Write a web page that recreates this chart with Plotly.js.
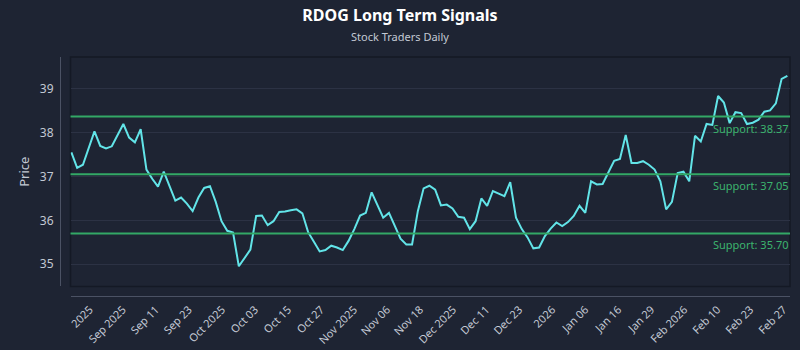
<!DOCTYPE html>
<html>
<head>
<meta charset="utf-8">
<script src="https://cdn.plot.ly/plotly-3.0.1.min.js"></script>
<style>html,body{margin:0;padding:0;background:#1e2433;}#chart{width:800px;height:350px;}</style>
</head>
<body>
<div id="chart"></div>
<script>
// ---- data ----
const prices = [
  37.55, 37.20, 37.27, 37.65, 38.03, 37.70, 37.64, 37.69, 37.94, 38.20,
  37.89, 37.78, 38.08, 37.16, 36.95, 36.77, 37.11, 36.78, 36.45, 36.52,
  36.38, 36.21, 36.52, 36.74, 36.78, 36.42, 35.98, 35.76, 35.72, 34.95,
  35.14, 35.33, 36.10, 36.11, 35.89, 35.98, 36.19, 36.20, 36.23, 36.25,
  36.16, 35.73, 35.51, 35.29, 35.32, 35.42, 35.38, 35.32, 35.53, 35.80,
  36.11, 36.17, 36.64, 36.36, 36.06, 36.17, 35.87, 35.58, 35.45, 35.45,
  36.21, 36.73, 36.79, 36.70, 36.34, 36.36, 36.27, 36.08, 36.06, 35.80,
  35.98, 36.50, 36.33, 36.67, 36.61, 36.55, 36.87, 36.06, 35.80, 35.61,
  35.36, 35.38, 35.64, 35.81, 35.95, 35.87, 35.96, 36.10, 36.33, 36.17,
  36.89, 36.82, 36.83, 37.08, 37.36, 37.40, 37.95, 37.31, 37.31, 37.35,
  37.27, 37.16, 36.89, 36.25, 36.42, 37.08, 37.11, 36.89, 37.93, 37.80,
  38.20, 38.18, 38.84, 38.69, 38.22, 38.47, 38.45, 38.20, 38.23, 38.30,
  38.48, 38.51, 38.67, 39.23, 39.30
];
const tickLabels = [
  "2025", "Sep 2025", "Sep 11", "Sep 23", "Oct 2025", "Oct 03", "Oct 15", "Oct 27",
  "Nov 2025", "Nov 06", "Nov 18", "Dec 2025", "Dec 11", "Dec 23", "2026", "Jan 06",
  "Jan 16", "Jan 29", "Feb 2026", "Feb 10", "Feb 23", "Feb 27"
];
const supportLevels = [38.37, 37.05, 35.70];
const supportNames = ["Support: 38.37", "Support: 37.05", "Support: 35.70"];

// ---- build ----
const xIdx = prices.map((_, i) => i);
const tickStart = 3.2, tickStep = 5.72;
const tickVals = tickLabels.map((_, k) => tickStart + k * tickStep);

const bg = '#1e2433';
const green = '#33a866';
const txt = '#c3c9d4';

const traces = [{
  type: 'scatter', mode: 'lines', x: xIdx, y: prices,
  line: {color: '#62e4e8', width: 2}, hoverinfo: 'skip', showlegend: false
}];

const shapes = [{
  type: 'rect', xref: 'x domain', yref: 'y domain', x0: 0, x1: 1, y0: 0, y1: 1,
  line: {color: '#141925', width: 1.5}, fillcolor: 'rgba(0,0,0,0)', layer: 'below'
}];
supportLevels.forEach(v => shapes.push({
  type: 'line', xref: 'x domain', yref: 'y', x0: 0, x1: 1, y0: v, y1: v,
  line: {color: green, width: 2}, layer: 'above'
}));

const annotations = supportLevels.map((v, i) => ({
  xref: 'x domain', yref: 'y', x: 1, y: v, xanchor: 'right', yanchor: 'top',
  yshift: -2, text: supportNames[i], showarrow: false,
  font: {family: 'Noto Sans, sans-serif', size: 11, color: '#3cb46e'}
}));
annotations.push({
  xref: 'paper', yref: 'paper', x: 0.4658, xanchor: 'center', y: 1, yanchor: 'bottom', yshift: 11,
  text: 'Stock Traders Daily', showarrow: false,
  font: {family: 'Noto Sans, sans-serif', size: 11, color: txt}
});

const layout = {
  width: 800, height: 350,
  paper_bgcolor: bg, plot_bgcolor: bg,
  margin: {l: 60, r: 10, t: 57, b: 54},
  title: {
    text: '<b>RDOG Long Term Signals</b>', x: 0.5, xanchor: 'center', y: 0.955, yanchor: 'middle',
    font: {family: 'Noto Sans, sans-serif', size: 16, color: '#ffffff'}
  },
  xaxis: {
    domain: [0.0144, 1], anchor: 'free', position: 0,
    range: [-0.15, 124.45], showgrid: false, zeroline: false,
    showline: true, linecolor: '#4b5264', linewidth: 1,
    tickmode: 'array', tickvals: tickVals, ticktext: tickLabels,
    tickangle: -45, ticks: '', ticklabelstandoff: 2,
    tickfont: {family: 'Noto Sans, sans-serif', size: 11, color: txt}
  },
  yaxis: {
    domain: [0.04, 1], anchor: 'free', position: 0,
    range: [34.49, 39.73], showgrid: true, gridcolor: '#2c3244', gridwidth: 1,
    zeroline: false, showline: true, linecolor: '#4b5264', linewidth: 1,
    tickvals: [35, 36, 37, 38, 39], ticks: '', ticklabelstandoff: 4,
    tickfont: {family: 'Noto Sans, sans-serif', size: 12, color: txt},
    title: {text: 'Price', standoff: 6, font: {family: 'Noto Sans, sans-serif', size: 13, color: txt}}
  },
  shapes: shapes,
  annotations: annotations,
  showlegend: false
};

Plotly.newPlot('chart', traces, layout, {displayModeBar: false, staticPlot: true});
</script>
</body>
</html>
